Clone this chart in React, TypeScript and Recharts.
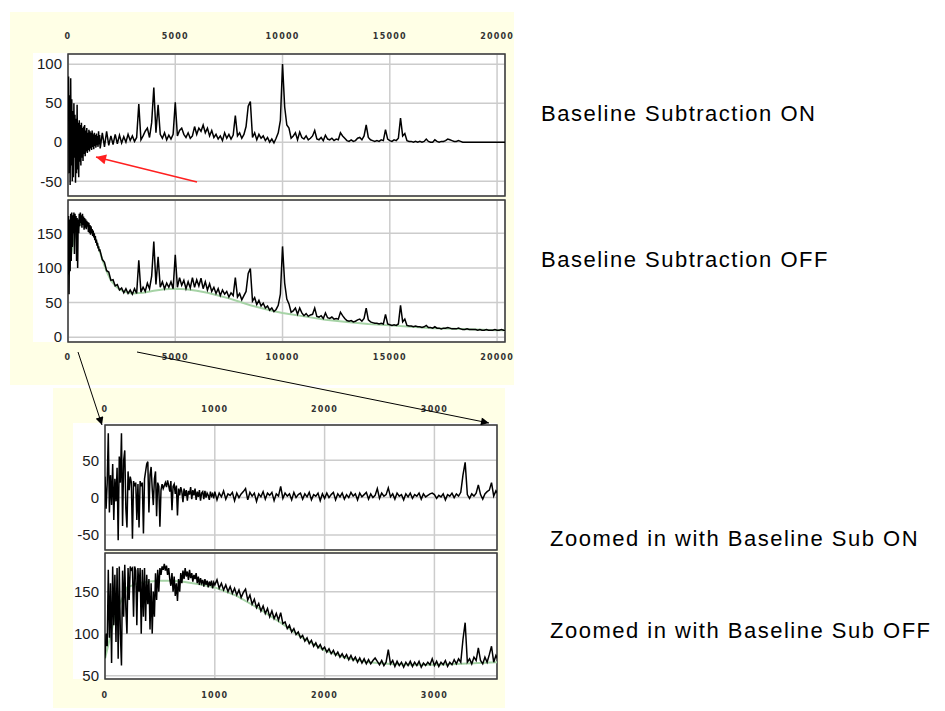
import React from 'react';
import { LineChart, Line, XAxis, YAxis, CartesianGrid, ReferenceArea } from 'recharts';

// sampling of the spectra: a finer head where the signal is busy, coarser tail after it
const FULL_HEAD_STEP = 25;
const FULL_TAIL_START = 1500;
const FULL_TAIL_STEP = 100;
const ZOOM_HEAD_STEP = 10;
const ZOOM_TAIL_START = 1000;
const ZOOM_TAIL_STEP = 20;

// full range, baseline subtraction ON: 0 .. 1475
const fullOnHead = [
  30, 84, -40, 60, -55, 82, -30, 55, -50, 40,
  -45, 50, -20, 35, -52, 30, -40, 48, -35, 25,
  -45, 28, -25, 22, -30, 25, -20, 18, -24, 20,
  -15, 22, -18, 15, -12, 18, -14, 12, -10, 16,
  -12, 14, -8, 12, -10, 15, -6, 10, -9, 12,
  -5, 9, -7, 11, -4, 8, -6, 14, -3, 9,
];
// full range, baseline subtraction ON: 1500 .. 20400
const fullOnTail = [
  -8, 12, -6, 14, -4, 8, -3, 10, -2, 9,
  -1, 7, 0, 10, 2, 8, 1, 6, 49, 3,
  8, 14, 18, 6, 25, 70, 12, 48, 10, 5,
  12, 3, 9, 4, 10, 51, 8, 15, 18, 10,
  6, 12, 5, 8, 20, 10, 18, 14, 22, 12,
  18, 8, 15, 6, 10, 4, 8, 2, 12, 5,
  10, 4, 9, 34, 8, 12, 5, 10, 20, 46,
  52, 6, 12, 3, 10, 5, 8, 2, 6, 0,
  4, -1, 5, 12, 28, 100, 45, 22, 18, 5,
  8, 12, 3, 13, 6, 4, 8, 3, 5, 8,
  15, 4, 3, 6, 2, 9, 4, 3, 5, 2,
  4, 3, 12, 8, 5, 2, 1, 3, 1, 2,
  5, 6, 3, 8, 22, 6, 3, 2, 1, 2,
  1, 3, 2, 16, 4, 2, 1, 3, 2, 5,
  31, 8, 11, 2, 1, 1, 0, 1, 0, 1,
  0, 1, 4, 1, 0, 0, 3, 1, 0, 1,
  1, 2, 4, 3, 2, 1, 1, 2, 1, 0,
  0, 0, 0, 0, 0, 0, 0, 0, 0, 0,
  0, 0, 0, 0, 0, 0, 0, 0, 0, 0,
];

// full range, baseline subtraction OFF: 0 .. 1475
const fullOffHead = [
  90, 175, 62, 170, 95, 178, 110, 180, 130, 176,
  150, 180, 120, 178, 160, 175, 110, 172, 100, 170,
  150, 178, 160, 180, 165, 176, 158, 178, 162, 174,
  155, 172, 158, 170, 156, 168, 160, 166, 152, 165,
  150, 162, 148, 160, 150, 156, 146, 154, 144, 150,
  140, 146, 136, 141, 132, 136, 128, 131, 124, 127,
];
// full range, baseline subtraction OFF: 1500 .. 20400
const fullOffTail = [
  124, 112, 108, 96, 94, 82, 83, 74, 76, 68,
  71, 64, 70, 63, 68, 62, 70, 63, 111, 65,
  72, 66, 78, 70, 88, 138, 76, 116, 72, 80,
  70, 78, 72, 80, 70, 119, 72, 86, 75, 82,
  70, 80, 71, 86, 72, 83, 74, 85, 70, 80,
  68, 77, 66, 72, 63, 70, 60, 68, 62, 66,
  58, 64, 60, 86, 58, 63, 54, 60, 66, 92,
  99, 52, 57, 47, 53, 45, 49, 42, 45, 39,
  42, 37, 40, 46, 62, 131, 78, 55, 48, 36,
  38, 42, 33, 42, 35, 31, 34, 30, 32, 33,
  42, 30, 29, 31, 27, 35, 28, 27, 29, 26,
  27, 26, 36, 31, 27, 24, 23, 24, 22, 23,
  25, 26, 23, 27, 42, 25, 22, 21, 20, 20,
  19, 20, 19, 33, 19, 18, 17, 18, 17, 19,
  46, 22, 26, 17, 16, 16, 15, 16, 15, 15,
  14, 15, 17, 14, 14, 13, 15, 13, 13, 12,
  13, 13, 14, 13, 12, 12, 12, 13, 12, 11,
  11, 12, 11, 11, 11, 11, 10, 11, 10, 10,
  11, 10, 10, 10, 11, 10, 10, 11, 10, 10,
];

// fitted baseline (green) for the full range
const fullBaseX = [0, 200, 400, 600, 800, 1000, 1200, 1400, 1600, 1800, 2000, 2200, 2400, 2600, 2800, 3000, 3500, 4000, 4500, 5000, 5500, 6000, 6500, 7000, 7500, 8000, 8500, 9000, 9500, 10000, 11000, 12000, 13000, 14000, 15000, 16000, 17000, 18000, 19000, 20000, 20400];
const fullBaseY = [90, 130, 155, 165, 165, 158, 148, 132, 112, 95, 82, 74, 69, 66, 64, 63, 64, 67, 69, 70, 69, 67, 64, 60, 56, 51, 46, 42, 38, 35, 30, 25, 22, 19, 17, 15, 13, 12, 11, 10, 10];

// zoomed range, baseline subtraction ON: 0 .. 990
const zoomOnHead = [
  28, -15, 20, 86, -20, 30, -10, 45, -30, 25,
  -5, 40, -57, 55, 20, 86, -38, 50, 63, -15,
  -40, 35, 10, 28, 20, -55, 22, 15, 20, -30,
  18, -40, 22, 15, 20, -48, 25, 35, 45, 48,
  -20, 30, 41, 12, -10, 25, 35, -25, 20, 15,
  -39, 10, 18, 12, 16, 20, 14, 23, 16, 8,
  22, -17, 15, 18, 5, 16, -24, 12, 3, 14,
  8, -6, 12, 2, 10, -4, 9, 4, 14, -2,
  10, 3, 12, -3, 8, 1, 10, -4, 6, 8,
  -2, 9, 0, 6, 3, -3, 8, 2, 5, -1,
];
// zoomed range, baseline subtraction ON: 1000 .. 3580
const zoomOnTail = [
  8, -3, 6, 1, 9, -2, 5, 3, 7, -4,
  6, 0, 5, 8, 12, -3, 7, 2, 6, -5,
  5, 1, 8, -2, 6, 3, 7, -4, 5, 2,
  15, -1, 6, 2, 5, -3, 7, 0, 4, 6,
  -2, 5, 1, 7, -3, 4, 2, 6, -4, 5,
  -1, 6, 0, 4, 7, -3, 5, 1, 6, -2,
  4, 0, 7, 2, 5, -3, 6, 1, 4, 7,
  -2, 5, 0, 3, 12, -1, 6, 2, 4, 13,
  1, 5, -2, 6, 2, 4, -3, 5, 1, 6,
  -1, 4, 2, 6, -2, 5, 1, 3, 5, 6,
  4, -1, 3, 1, 5, -3, 4, 2, 6, 0,
  5, 2, 7, 30, 47, 4, -1, 5, 2, 6,
  17, 4, -2, 5, 8, 10, 20, 2, 9, 5,
];

// zoomed range, baseline subtraction OFF: 0 .. 990
const zoomOffHead = [
  70, 100, 85, 176, 95, 160, 65, 180, 110, 170,
  90, 178, 70, 180, 100, 62, 175, 120, 182, 130,
  100, 178, 140, 180, 176, 178, 120, 180, 175, 110,
  178, 150, 178, 100, 176, 120, 178, 115, 170, 135,
  165, 105, 160, 100, 150, 120, 172, 140, 176, 150,
  178, 170, 180, 176, 183, 175, 181, 170, 178, 165,
  157, 172, 150, 168, 145, 160, 139, 165, 150, 172,
  160, 175, 165, 178, 168, 174, 164, 176, 166, 172,
  162, 170, 165, 172, 160, 168, 158, 166, 160, 164,
  156, 165, 158, 163, 155, 162, 157, 163, 154, 161,
];
// zoomed range, baseline subtraction OFF: 1000 .. 3580
const zoomOffTail = [
  158, 164, 154, 160, 152, 158, 150, 156, 148, 154,
  146, 152, 143, 149, 153, 140, 146, 135, 141, 131,
  136, 127, 133, 124, 130, 120, 127, 118, 124, 116,
  125, 112, 114, 106, 110, 102, 106, 99, 102, 95,
  98, 91, 95, 88, 92, 85, 89, 83, 87, 81,
  84, 78, 82, 76, 80, 74, 78, 72, 76, 71,
  75, 69, 74, 68, 72, 66, 71, 65, 70, 64,
  69, 64, 68, 71, 67, 63, 68, 62, 66, 81,
  64, 68, 61, 67, 62, 66, 60, 66, 62, 67,
  61, 66, 62, 67, 60, 65, 62, 66, 63, 70,
  62, 67, 61, 66, 63, 68, 61, 66, 63, 69,
  64, 70, 66, 93, 113, 66, 70, 64, 72, 68,
  83, 68, 64, 72, 66, 75, 85, 66, 74, 69,
];

const zoomBaseX = [0, 100, 200, 300, 400, 500, 600, 700, 800, 900, 1000, 1200, 1400, 1600, 1800, 2000, 2200, 2400, 2600, 2800, 3000, 3200, 3400, 3580];
const zoomBaseY = [70, 125, 155, 160, 162, 163, 163, 162, 160, 158, 155, 145, 130, 113, 95, 80, 71, 66, 64, 63, 63, 64, 65, 66];

const fullTicksX = [0, 5000, 10000, 15000, 20000];
const zoomTicksX = [0, 1000, 2000, 3000];
const onTicksY = [-50, 0, 50, 100];
const offTicksY = [0, 50, 100, 150];
const zoomOnTicksY = [-50, 0, 50];
const zoomOffTicksY = [50, 100, 150];

type Row = { x: number; y: number };

const sampled = (head: number[], headStep: number, tailStart: number, tail: number[], tailStep: number): Row[] => [
  ...head.map((y, i) => ({ x: i * headStep, y })),
  ...tail.map((y, i) => ({ x: tailStart + i * tailStep, y })),
];
const pairRows = (xs: number[], ys: number[]): Row[] => xs.map((x, i) => ({ x, y: ys[i] }));

interface PanelProps {
  left: number;
  top: number;
  width: number;
  height: number;
  margin: { top: number; right: number; bottom: number; left: number };
  yWidth: number;
  xDomain: [number, number];
  yDomain: [number, number];
  xTicks: number[];
  yTicks: number[];
  xSide: 'top' | 'bottom';
  xGap: number;
  signal: Row[];
  baseline?: Row[];
}

const Panel: React.FC<PanelProps> = (p) => (
  <div style={{ position: 'absolute', left: p.left, top: p.top }}>
    <LineChart width={p.width} height={p.height} margin={p.margin}>
      <CartesianGrid stroke="#cccccc" strokeWidth={1.5} />
      <XAxis
        type="number"
        dataKey="x"
        domain={p.xDomain}
        ticks={p.xTicks}
        interval={0}
        allowDataOverflow
        orientation={p.xSide}
        height={20}
        axisLine={false}
        tickLine={false}
        tickSize={0}
        tickMargin={p.xGap}
        tick={{ fill: '#333', fontSize: 8, fontWeight: 'bold', fontFamily: 'DejaVu Sans, sans-serif', letterSpacing: 1.2 }}
      />
      <YAxis
        type="number"
        dataKey="y"
        domain={p.yDomain}
        ticks={p.yTicks}
        interval={0}
        allowDataOverflow
        width={p.yWidth}
        axisLine={false}
        tickLine={false}
        tickSize={0}
        tickMargin={6}
        tick={{ fill: '#1a1a1a', fontSize: 15, fontFamily: 'Liberation Sans, Arial, sans-serif' }}
      />
      {p.baseline && (
        <Line data={p.baseline} dataKey="y" stroke="#a6d3a6" strokeWidth={2} dot={false} isAnimationActive={false} />
      )}
      <Line data={p.signal} dataKey="y" stroke="#000" strokeWidth={1.5} dot={false} isAnimationActive={false} />
      <ReferenceArea
        x1={p.xDomain[0]}
        x2={p.xDomain[1]}
        y1={p.yDomain[0]}
        y2={p.yDomain[1]}
        fill="none"
        stroke="#3a3a3a"
        strokeWidth={1.5}
        ifOverflow="visible"
      />
    </LineChart>
  </div>
);

const captionStyle = { fontSize: 22, fontFamily: 'Liberation Sans, Arial, sans-serif', letterSpacing: 1.5, fill: '#000' };

export default function App() {
  return (
    <div style={{ position: 'absolute', left: 0, top: 0, width: 945, height: 711, background: '#fff', overflow: 'hidden' }}>
      {/* pale yellow panels and white plot backdrops */}
      <div style={{ position: 'absolute', left: 10, top: 12, width: 504, height: 373, background: '#ffffe6' }} />
      <div style={{ position: 'absolute', left: 53, top: 388, width: 452, height: 320, background: '#ffffe6' }} />
      <div style={{ position: 'absolute', left: 33, top: 53, width: 472, height: 289, background: '#fff' }} />
      <div style={{ position: 'absolute', left: 68, top: 197, width: 437, height: 2, background: '#ffffe6' }} />
      <div style={{ position: 'absolute', left: 73, top: 423, width: 424, height: 256, background: '#fff' }} />
      <div style={{ position: 'absolute', left: 105, top: 551, width: 392, height: 1.5, background: '#ffffe6' }} />

      <Panel
        left={20} top={20} width={500} height={180}
        margin={{ top: 14, right: 15, bottom: 4, left: 8 }}
        yWidth={40}
        xDomain={[0, 20370]} yDomain={[-69, 113]}
        xTicks={fullTicksX} yTicks={onTicksY}
        xSide="top" xGap={15}
        signal={sampled(fullOnHead, FULL_HEAD_STEP, FULL_TAIL_START, fullOnTail, FULL_TAIL_STEP)}
      />
      <Panel
        left={20} top={195} width={500} height={180}
        margin={{ top: 5, right: 15, bottom: 13, left: 8 }}
        yWidth={40}
        xDomain={[0, 20370]} yDomain={[-7, 198]}
        xTicks={fullTicksX} yTicks={offTicksY}
        xSide="bottom" xGap={12}
        signal={sampled(fullOffHead, FULL_HEAD_STEP, FULL_TAIL_START, fullOffTail, FULL_TAIL_STEP)}
        baseline={pairRows(fullBaseX, fullBaseY)}
      />
      <Panel
        left={60} top={395} width={450} height={160}
        margin={{ top: 10, right: 13, bottom: 5, left: 10 }}
        yWidth={35}
        xDomain={[0, 3570]} yDomain={[-70, 97]}
        xTicks={zoomTicksX} yTicks={zoomOnTicksY}
        xSide="top" xGap={13}
        signal={sampled(zoomOnHead, ZOOM_HEAD_STEP, ZOOM_TAIL_START, zoomOnTail, ZOOM_TAIL_STEP)}
      />
      <Panel
        left={60} top={548} width={450} height={160}
        margin={{ top: 5, right: 13, bottom: 9, left: 10 }}
        yWidth={35}
        xDomain={[0, 3570]} yDomain={[46, 196]}
        xTicks={zoomTicksX} yTicks={zoomOffTicksY}
        xSide="bottom" xGap={13}
        signal={sampled(zoomOffHead, ZOOM_HEAD_STEP, ZOOM_TAIL_START, zoomOffTail, ZOOM_TAIL_STEP)}
        baseline={pairRows(zoomBaseX, zoomBaseY)}
      />

      {/* annotations */}
      <svg width={945} height={711} style={{ position: 'absolute', left: 0, top: 0, pointerEvents: 'none' }}>
        <defs>
          <marker id="headBlack" viewBox="0 0 10 10" refX="10" refY="5" markerWidth="9" markerHeight="8" markerUnits="userSpaceOnUse" orient="auto">
            <path d="M0,0 L10,5 L0,10 z" fill="#000" />
          </marker>
          <marker id="headRed" viewBox="0 0 10 10" refX="10" refY="5" markerWidth="13" markerHeight="10" markerUnits="userSpaceOnUse" orient="auto">
            <path d="M0,0 L10,5 L0,10 z" fill="#ff2020" />
          </marker>
        </defs>
        <line x1={78} y1={352} x2={102} y2={425} stroke="#000" strokeWidth={1} markerEnd="url(#headBlack)" />
        <line x1={137} y1={352} x2={489} y2={423} stroke="#000" strokeWidth={1} markerEnd="url(#headBlack)" />
        <line x1={197} y1={182} x2={96} y2={157} stroke="#ff2020" strokeWidth={1.5} markerEnd="url(#headRed)" />

        <text x={541} y={121} style={captionStyle}>Baseline Subtraction ON</text>
        <text x={541} y={267} style={captionStyle}>Baseline Subtraction OFF</text>
        <text x={550} y={546} style={captionStyle}>Zoomed in with Baseline Sub ON</text>
        <text x={550} y={638} style={captionStyle}>Zoomed in with Baseline Sub OFF</text>
      </svg>
    </div>
  );
}
